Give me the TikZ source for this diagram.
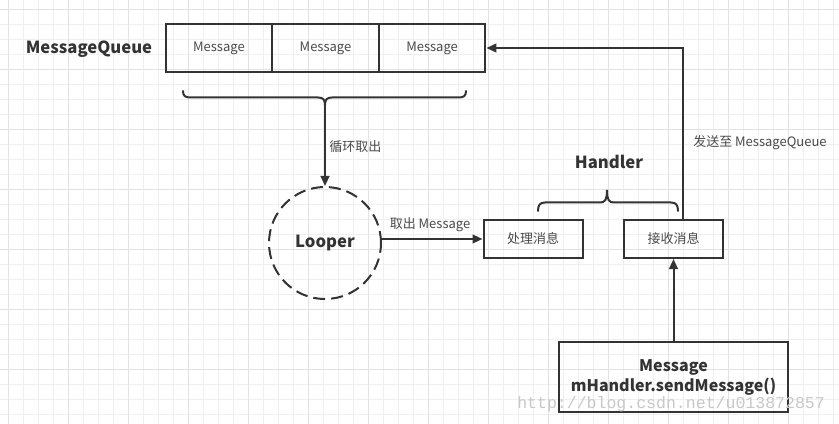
\documentclass[tikz,border=0pt]{standalone}
\usepackage{fontspec}
\setmainfont{Noto Sans CJK SC}
\newfontfamily\wmfont{Liberation Mono}
\usetikzlibrary{arrows.meta,calc}
\definecolor{ink}{HTML}{333333}
\definecolor{txt}{HTML}{4A4A4A}
\definecolor{gridminor}{HTML}{EFEFEF}
\definecolor{gridmajor}{HTML}{E2E2E2}
\definecolor{wmark}{HTML}{C8C8C8}
\tikzset{
  line/.style={draw=ink, line width=1.5pt},
  arrow/.style={line, -{Triangle[length=7.5pt,width=6.5pt]}},
  qbox/.style={line, minimum width=79.95pt, minimum height=36pt, inner sep=0pt,
    font=\fontsize{9.75pt}{12pt}\selectfont, text=txt},
  hbox/.style={line, minimum width=74.25pt, minimum height=28.5pt, inner sep=0pt,
    font=\fontsize{9.75pt}{12pt}\selectfont, text=txt},
  title/.style={font=\fontsize{12.5pt}{15pt}\selectfont\bfseries, text=ink},
  lbl/.style={font=\fontsize{9.75pt}{12pt}\selectfont, text=txt, inner sep=0pt},
}
\begin{document}
\begin{tikzpicture}[x=0.75pt,y=-0.75pt]
\useasboundingbox (0,0) rectangle (839,424);
\fill[white] (0,0) rectangle (839,424);
% background grid
\foreach \i in {0,...,55} \draw[gridminor, line width=0.75pt] ({8.3+15*\i},0) -- ({8.3+15*\i},424);
\foreach \i in {0,...,28} \draw[gridminor, line width=0.75pt] (0,{9.3+15*\i}) -- (839,{9.3+15*\i});
\foreach \i in {0,...,13} \draw[gridmajor, line width=0.75pt] ({8.3+60*\i},0) -- ({8.3+60*\i},424);
\foreach \i in {0,...,7} \draw[gridmajor, line width=0.75pt] (0,{9.3+60*\i}) -- (839,{9.3+60*\i});

% message queue
\node[title] (mq) at (89,49) {MessageQueue};
\node[qbox] (m1) at (218.9,48) {Message};
\node[qbox] (m2) at (325.5,48) {Message};
\node[qbox] (m3) at (432.1,48) {Message};

% brace under the queue
\coordinate (qtip) at (325,105);
\draw[line, line cap=round] (183,91) .. controls (183,95.5) and (185,97.5) .. (190,97.5) -- (318,97.5)
  .. controls (323,97.5) and (325,99.5) .. (qtip)
  .. controls (325,99.5) and (327,97.5) .. (332,97.5) -- (459,97.5)
  .. controls (464,97.5) and (466,95.5) .. (466,91);

% looper
\node[circle, draw=ink, line width=1.5pt, dash pattern=on 9pt off 4.5pt,
  minimum size=84pt, inner sep=0pt, title] (looper) at (325,243) {Looper};
\draw[arrow] (qtip) -- (looper.north);
\node[lbl, anchor=west] (loop) at (329,147) {循环取出};

% handler
\node[hbox] (proc) at (533,239) {处理消息};
\node[hbox] (recv) at (673.5,239) {接收消息};
\draw[arrow] (looper.east |- proc.west) -- (proc.west);
\node[lbl] (take) at (430,225) {取出 Message};

\coordinate (htip) at (607,190);
\draw[line, line cap=round] (538,211) .. controls (538,205) and (540,202.5) .. (545,202.5) -- (600,202.5)
  .. controls (605,202.5) and (607,200) .. (htip)
  .. controls (607,200) and (609,202.5) .. (614,202.5) -- (671,202.5)
  .. controls (676,202.5) and (678,205) .. (678,211);
\node[title] (handler) at (609,162) {Handler};

% send back to the queue
\draw[arrow] ($(recv.north)+(9.5,0)$) |- (m3.east);
\node[lbl, anchor=west] (sendto) at (693,143) {发送至 MessageQueue};

% sender
\node[line, minimum width=171.75pt, minimum height=52.5pt, inner sep=0pt, title,
  align=center, font=\fontsize{12pt}{15pt}\selectfont\bfseries] (send) at (673.5,377)
  {Message\\mHandler.sendMessage()};
\draw[arrow] (send.north) -- (recv.south);

% watermark
\node[text=wmark, font=\wmfont\fontsize{12.4pt}{14pt}\selectfont, inner sep=0pt, anchor=west] (wm)
  at (517,404) {http://blog.csdn.net/u013872857};
\end{tikzpicture}
\end{document}
